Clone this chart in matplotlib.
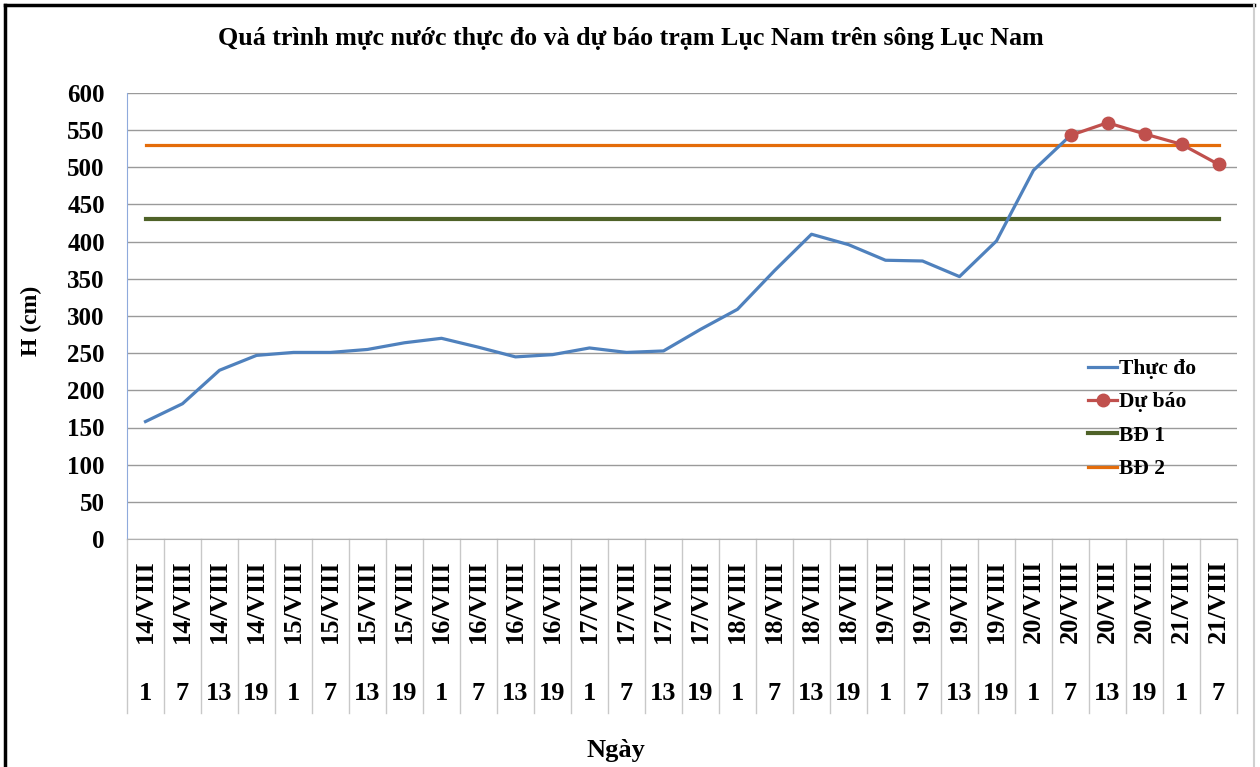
import numpy as np
import matplotlib.pyplot as plt
from matplotlib.lines import Line2D
import matplotlib.transforms as mtransforms

plt.rcParams['font.family'] = ['Liberation Serif', 'DejaVu Serif']
plt.rcParams['font.weight'] = 'bold'

# du lieu
ngay = ['14/VIII'] * 4 + ['15/VIII'] * 4 + ['16/VIII'] * 4 + ['17/VIII'] * 4 + \
       ['18/VIII'] * 4 + ['19/VIII'] * 4 + ['20/VIII'] * 4 + ['21/VIII'] * 2
gio = [1, 7, 13, 19] * 7 + [1, 7]
thuc_do = [158, 182, 227, 247, 251, 251, 255, 264, 270, 258, 245, 248, 257, 251, 253,
           282, 309, 361, 410, 396, 375, 374, 353, 401, 496, 543]
du_bao = [543, 560, 545, 531, 504]
bd1 = 430
bd2 = 530

n = len(gio)
x = np.arange(n)

fig = plt.figure(figsize=(12.6, 7.67), dpi=100)
W, H = 1260, 767
ax = fig.add_axes([127 / W, 1 - 539 / H, (1237 - 127) / W, (539 - 93) / H])

ax.plot(x[:len(thuc_do)], thuc_do, color='#4F81BD', lw=2.3, label='Thực đo', zorder=3)
ax.plot(x[n - len(du_bao):], du_bao, color='#C0504D', lw=2.3, marker='o', ms=9,
        label='Dự báo', zorder=4)
ax.plot(x, [bd1] * n, color='#4F6228', lw=3, label='BĐ 1', zorder=2)
ax.plot(x, [bd2] * n, color='#E46C0A', lw=2.3, label='BĐ 2', zorder=2)

ax.set_xlim(-0.5, n - 0.5)
ax.set_ylim(0, 600)
ax.set_yticks(np.arange(0, 601, 50))
ax.yaxis.grid(True, color='#9a9a9a', lw=1)
ax.set_axisbelow(True)
for s in ['top', 'right']:
    ax.spines[s].set_visible(False)
ax.spines['left'].set_color('#8faadc')
ax.spines['bottom'].set_color('#b0b0b0')
ax.tick_params(axis='y', length=0, pad=16, labelsize=18)
ax.tick_params(axis='x', length=0, labelbottom=False)
for lb in ax.get_yticklabels():
    lb.set_fontweight('bold')

# nhan truc x hai tang
tr = mtransforms.blended_transform_factory(ax.transData, ax.transAxes)
for i in range(n):
    ax.text(x[i], -0.14, ngay[i], rotation=90, ha='center', va='center',
            fontsize=19, fontweight='bold', transform=tr)
    ax.text(x[i], -0.347, str(gio[i]), ha='center', va='center',
            fontsize=19, fontweight='bold', transform=tr)
for b in np.arange(-0.5, n, 1.0):
    ax.plot([b, b], [0, -0.39], color='#c8c8c8', lw=1, transform=tr, clip_on=False)

ax.set_ylabel('H (cm)', fontsize=17, fontweight='bold')
ax.yaxis.set_label_coords(-85 / 1110, 0.49)
fig.text(616 / W, 1 - 751 / H, 'Ngày', ha='center', va='center', fontsize=19, fontweight='bold')
fig.text(631 / W, 1 - 38 / H, 'Quá trình mực nước thực đo và dự báo trạm Lục Nam trên sông Lục Nam',
         ha='center', va='center', fontsize=18.7, fontweight='bold')

leg = ax.legend(loc='upper left', bbox_to_anchor=(1088 / W, 1 - 359 / H),
                bbox_transform=fig.transFigure, frameon=False, fontsize=15.5,
                borderpad=0, borderaxespad=0,
                handlelength=1.35, handletextpad=0.08, labelspacing=0.62)
for t in leg.get_texts():
    t.set_fontweight('bold')

# khung
fig.add_artist(Line2D([5 / W, 5 / W], [0, 1 - 5 / H], color='black', lw=2.5))
fig.add_artist(Line2D([5 / W, 1254 / W], [1 - 5 / H, 1 - 5 / H], color='black', lw=2.5))
fig.add_artist(Line2D([1254 / W, 1254 / W], [0, 1 - 5 / H], color='#d0d0d0', lw=1.5))

fig.savefig('out.png', dpi=100)
